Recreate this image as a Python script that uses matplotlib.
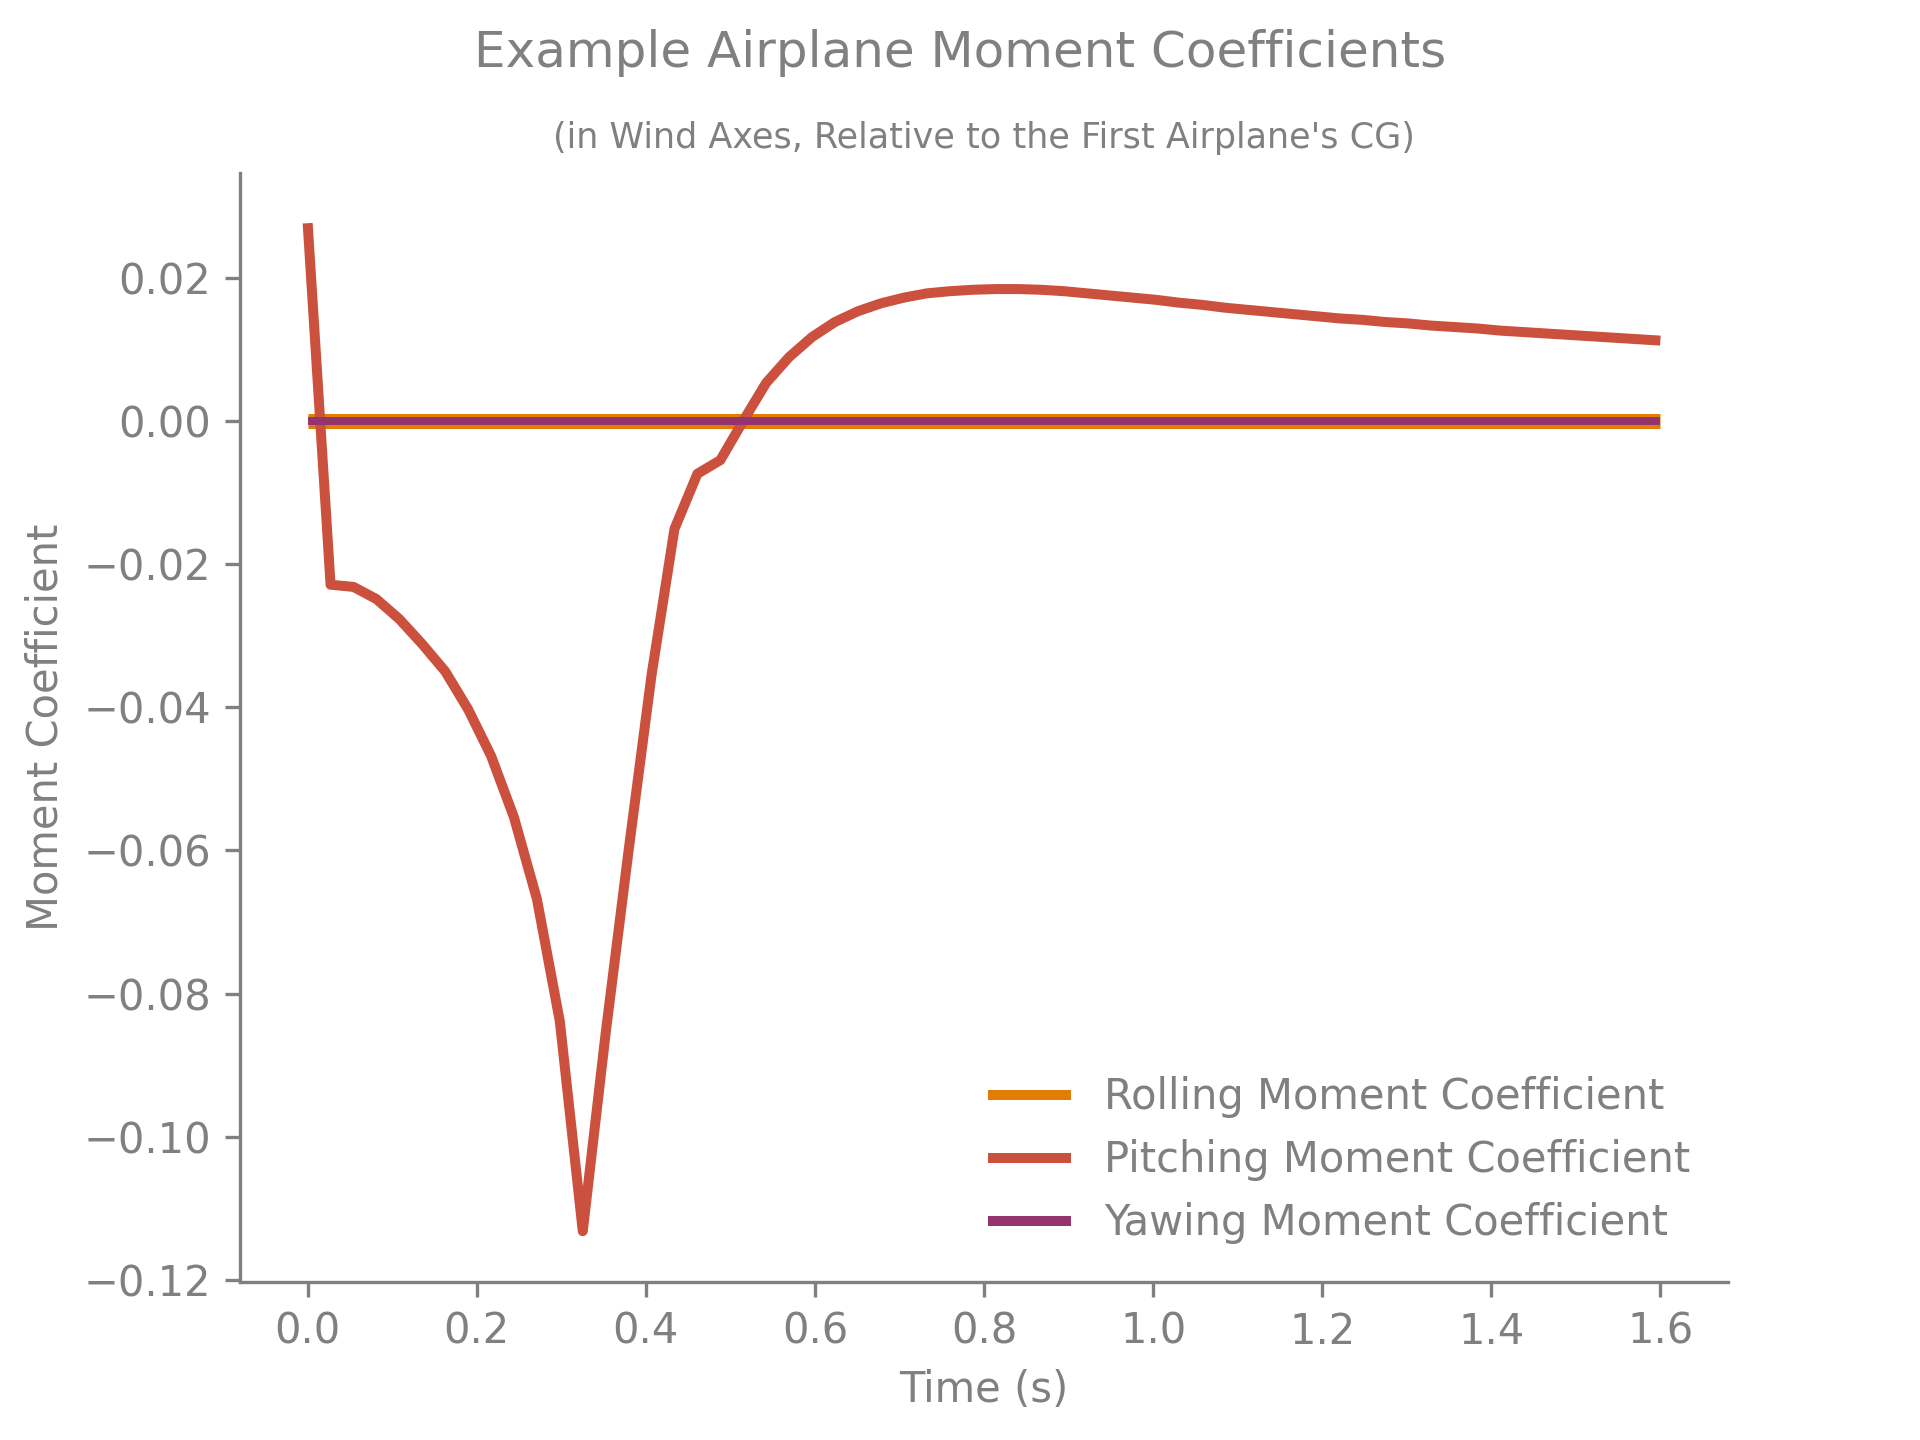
import matplotlib
matplotlib.use("Agg")
import matplotlib.pyplot as plt
from matplotlib.lines import Line2D
import numpy as np

# time samples (60 steps from 0 to 1.6 s)
time = np.linspace(0, 1.6, 60)

pitching = [
    0.0276, -0.0229, -0.0232, -0.0249, -0.0277, -0.0312, -0.0350, -0.0403,
    -0.0468, -0.0554, -0.0668, -0.0839, -0.1132, -0.0855, -0.0600, -0.0355,
    -0.0151, -0.0074, -0.0055, 0.0000, 0.0053, 0.0089, 0.0117, 0.0138,
    0.0153, 0.0164, 0.0172, 0.0178, 0.0181, 0.0183, 0.0184, 0.0184,
    0.0183, 0.0181, 0.0178, 0.0175, 0.0172, 0.0169, 0.0165, 0.0162,
    0.0158, 0.0155, 0.0152, 0.0149, 0.0146, 0.0143, 0.0141, 0.0138,
    0.0136, 0.0133, 0.0131, 0.0129, 0.0126, 0.0124, 0.0122, 0.0120,
    0.0118, 0.0116, 0.0114, 0.0112,
]
rolling = [0.0] * 60
yawing = [0.0] * 60

labels = ["Rolling Moment Coefficient", "Pitching Moment Coefficient", "Yawing Moment Coefficient"]
colors = ["#E17C05", "#CC503E", "#94346E"]

grey = "#808080"
plt.rcParams["text.color"] = grey
plt.rcParams["axes.labelcolor"] = grey
plt.rcParams["xtick.color"] = grey
plt.rcParams["ytick.color"] = grey
plt.rcParams["axes.edgecolor"] = grey
plt.rcParams["lines.solid_capstyle"] = "butt"

fig, ax = plt.subplots(figsize=(6.4, 4.8), dpi=300)
ax.plot(time, rolling, color=colors[0], lw=3.6)
ax.plot(time, pitching, color=colors[1], lw=2.4)
ax.plot(time, yawing, color=colors[2], lw=1.9)

ax.spines["top"].set_visible(False)
ax.spines["right"].set_visible(False)

ax.set_xlabel("Time (s)")
ax.set_ylabel("Moment Coefficient")
fig.suptitle("Example Airplane Moment Coefficients", fontsize=12, color=grey)
ax.set_title("(in Wind Axes, Relative to the First Airplane's CG)", fontsize=8.4, color=grey)

# legend lines drawn at the same width for all three series
handles = [Line2D([], [], color=c, lw=2.4) for c in colors]
ax.legend(handles, labels, loc="lower right", frameon=False)

fig.savefig("out.png", dpi=300)
